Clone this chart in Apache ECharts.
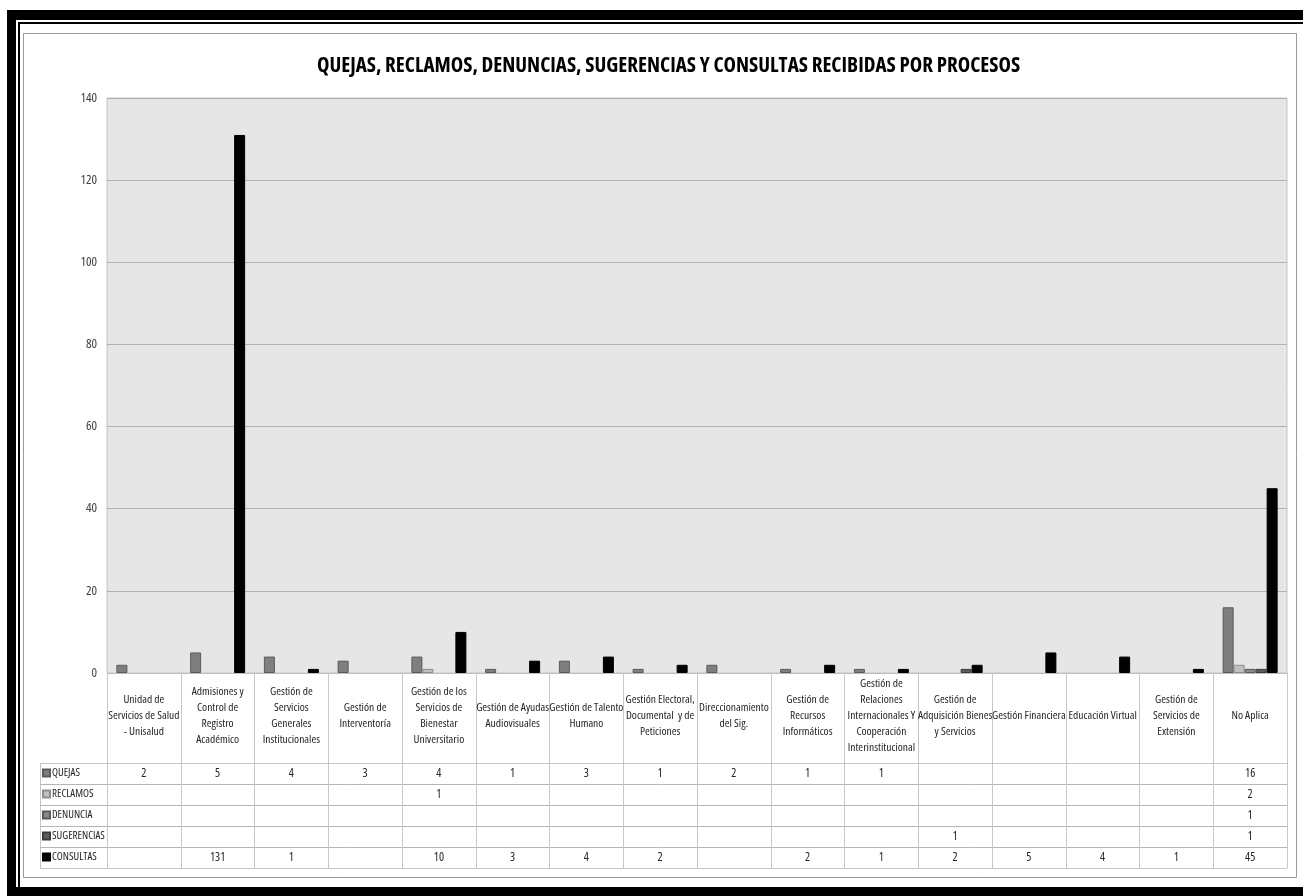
<!DOCTYPE html>
<html>
<head>
<meta charset="utf-8">
<script src="https://cdn.jsdelivr.net/npm/echarts@6/dist/echarts.min.js"></script>
<style>
html, body { margin: 0; padding: 0; background: #fff; }
#main { width: 1303px; height: 896px; }
</style>
</head>
<body>
<div id="main"></div>
<script>
var categories = [
    "Unidad de\nServicios de Salud\n- Unisalud",
    "Admisiones y\nControl de\nRegistro\nAcadémico",
    "Gestión de\nServicios\nGenerales\nInstitucionales",
    "Gestión de\nInterventoría",
    "Gestión de los\nServicios de\nBienestar\nUniversitario",
    "Gestión de Ayudas\nAudiovisuales",
    "Gestión de Talento\nHumano",
    "Gestión Electoral,\nDocumental  y de\nPeticiones",
    "Direccionamiento\ndel Sig.",
    "Gestión de\nRecursos\nInformáticos",
    "Gestión de\nRelaciones\nInternacionales Y\nCooperación\nInterinstitucional",
    "Gestión de\nAdquisición Bienes\ny Servicios",
    "Gestión Financiera",
    "Educación Virtual",
    "Gestión de\nServicios de\nExtensión",
    "No Aplica"
]

var quejas      = [2, 5, 4, 3, 4, 1, 3, 1, 2, 1, 1, null, null, null, null, 16]
var reclamos    = [null, null, null, null, 1, null, null, null, null, null, null, null, null, null, null, 2]
var denuncia    = [null, null, null, null, null, null, null, null, null, null, null, null, null, null, null, 1]
var sugerencias = [null, null, null, null, null, null, null, null, null, null, null, 1, null, null, null, 1]
var consultas   = [null, 131, 1, null, 10, 3, 4, 2, null, 2, 1, 2, 5, 4, 1, 45]

var series_names = ['QUEJAS', 'RECLAMOS', 'DENUNCIA', 'SUGERENCIAS', 'CONSULTAS']
var y_ticks = [0, 140, 20]

var color_list = ['#7f7f7f', '#c0c0c0', '#8a8a8a', '#5c5c5c', '#000000']
var border_list = ['#5a5a5a', '#8e8e8e', '#5a5a5a', '#3c3c3c', '#000000']
var table_rows = [quejas, reclamos, denuncia, sugerencias, consultas]

// Open Sans has a condensed face installed, close to the narrow look of the original
var font = "'Open Sans', sans-serif"
var stretch = 'condensed'
var plot_left = 107, plot_right = 1287, plot_top = 98, axis_y = 673
var row_top = 763, row_h = 21, table_left = 40
var table_bottom = row_top + 5 * row_h

function row_formatter(row) {
    return function (value, index) {
        return row[index] == null ? '' : String(row[index])
    }
}

var x_axes = [{
    type: 'category',
    data: categories,
    gridIndex: 0,
    axisLine: { show: true, lineStyle: { color: '#bdbdbd', width: 1 } },
    axisTick: {
        show: true,
        interval: 0,
        length: table_bottom - axis_y,
        lineStyle: { color: '#c6c6c6', width: 1 }
    },
    axisLabel: {
        interval: 0,
        margin: 43,
        verticalAlign: 'middle',
        lineHeight: 16,
        fontSize: 11.5,
        fontFamily: font,
        fontStyle: stretch,
        color: '#262626'
    }
}]
for (var k = 0; k < table_rows.length; k++) {
    x_axes.push({
        type: 'category',
        data: categories,
        gridIndex: 0,
        position: 'bottom',
        offset: row_top + k * row_h + row_h / 2 - axis_y,
        axisLine: { show: false },
        axisTick: { show: false },
        splitLine: { show: false },
        axisLabel: {
            interval: 0,
            margin: 0,
            verticalAlign: 'middle',
            fontSize: 12,
            fontFamily: font,
            fontStyle: stretch,
            color: '#262626',
            formatter: row_formatter(table_rows[k])
        }
    })
}

var series = []
for (var s = 0; s < series_names.length; s++) {
    series.push({
        name: series_names[s],
        type: 'bar',
        xAxisIndex: 0,
        yAxisIndex: 0,
        barWidth: 11,
        barGap: '0%',
        itemStyle: { color: color_list[s], borderColor: border_list[s], borderWidth: 1 },
        emphasis: { disabled: true },
        data: table_rows[s]
    })
}

var graphics = [
    // outer black frame
    { type: 'rect', shape: { x: 7, y: 10, width: 1296, height: 10 }, style: { fill: '#000' } },
    { type: 'rect', shape: { x: 7, y: 10, width: 9, height: 886 }, style: { fill: '#000' } },
    { type: 'rect', shape: { x: 7, y: 887, width: 1296, height: 9 }, style: { fill: '#000' } },
    { type: 'rect', shape: { x: 18, y: 22, width: 1285, height: 2 }, style: { fill: '#000' } },
    { type: 'rect', shape: { x: 18, y: 22, width: 2, height: 865 }, style: { fill: '#000' } },
    // chart area border
    { type: 'rect', shape: { x: 23.5, y: 33.5, width: 1273, height: 844 }, style: { fill: 'none', stroke: '#9a9a9a', lineWidth: 1 } },
    { type: 'line', shape: { x1: table_left + 0.5, y1: row_top, x2: table_left + 0.5, y2: table_bottom }, style: { stroke: '#c6c6c6', lineWidth: 1 } }
]
for (var r = 0; r <= 5; r++) {
    var yy = row_top + r * row_h + 0.5
    graphics.push({
        type: 'line',
        shape: { x1: table_left, y1: yy, x2: plot_right, y2: yy },
        style: { stroke: r == 0 || r == 5 ? '#c6c6c6' : '#b5b5b5', lineWidth: 1 }
    })
}

var option = {
    animation: false,
    backgroundColor: '#ffffff',
    title: {
        text: 'QUEJAS, RECLAMOS, DENUNCIAS, SUGERENCIAS Y CONSULTAS RECIBIDAS POR PROCESOS',
        left: 312,
        top: 51,
        textStyle: { fontFamily: font, fontStyle: stretch, fontSize: 21, fontWeight: 'bold', color: '#000' }
    },
    legend: {
        data: series_names,
        orient: 'vertical',
        left: table_left + 2,
        top: row_top + 3,
        padding: 0,
        itemWidth: 7,
        itemHeight: 7,
        itemGap: 7,
        icon: 'rect',
        selectedMode: false,
        textStyle: { fontFamily: font, fontStyle: stretch, fontSize: 11, lineHeight: 14, color: '#262626', padding: [0, 0, 0, -3] }
    },
    grid: {
        left: plot_left,
        top: plot_top,
        width: plot_right - plot_left,
        height: axis_y - plot_top,
        show: true,
        backgroundColor: '#e6e6e6',
        borderColor: '#c4c4c4',
        borderWidth: 1
    },
    xAxis: x_axes,
    yAxis: [{
        type: 'value',
        min: y_ticks[0],
        max: y_ticks[1],
        interval: y_ticks[2],
        axisLine: { show: false },
        axisTick: { show: false },
        axisLabel: { fontFamily: font, fontStyle: stretch, fontSize: 13, color: '#404040', margin: 10 },
        splitLine: { lineStyle: { color: '#b2b2b2', width: 1 } }
    }],
    graphic: graphics,
    series: series
}

var myChart = echarts.init(document.getElementById('main'))
myChart.setOption(option)
</script>
</body>
</html>
